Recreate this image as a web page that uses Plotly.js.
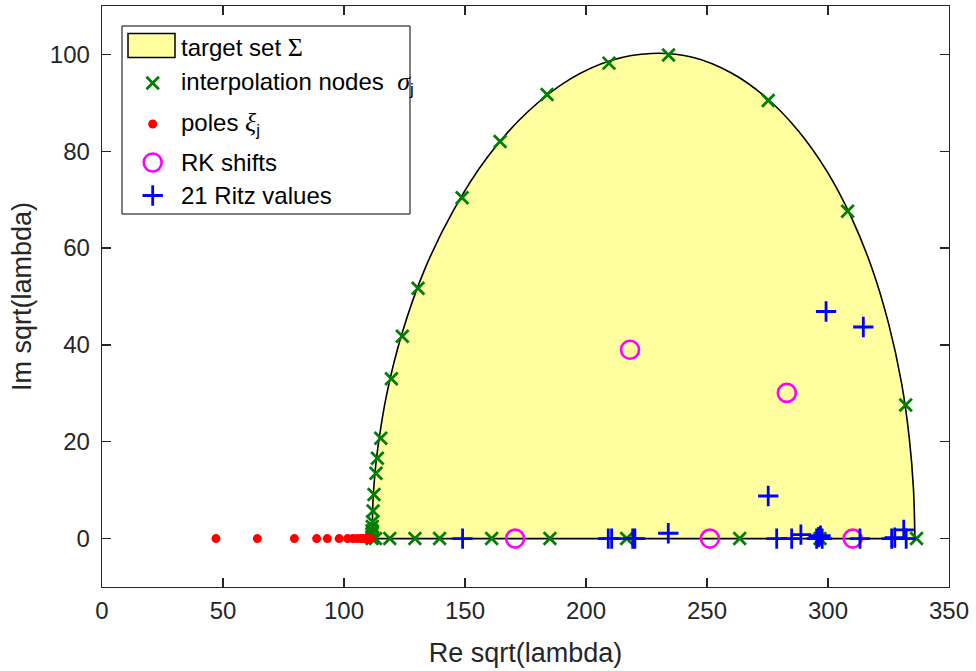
<!DOCTYPE html>
<html>
<head>
<meta charset="utf-8">
<script src="https://cdn.plot.ly/plotly-3.0.1.min.js"></script>
<style>
  html, body { margin: 0; padding: 0; background: #ffffff; }
  #chart { width: 976px; height: 671px; }
</style>
</head>
<body>
<div id="chart"></div>
<script>
// Boundary of the target set Sigma in the sqrt(lambda) plane (upper arc, left to right)
const boundaryRe = [111.6, 112.0, 112.8, 114.1, 117.6, 123.8, 133.0, 145.0, 159.3, 175.6, 193.4, 210.6, 226.9, 244.0, 259.9, 274.4, 287.6, 299.4, 309.6, 318.2, 325.1, 330.4, 333.6, 335.3, 335.9];
const boundaryIm = [0, 7.8, 13.6, 19.2, 29.7, 42.1, 55.2, 67.6, 78.8, 88.0, 94.9, 98.8, 100.2, 99.4, 96.2, 91.1, 84.3, 76.0, 66.4, 55.8, 44.3, 32.1, 20.7, 10.4, 0];

// Interpolation nodes sigma_j
const nodesRe = [111.5, 111.5, 111.6, 111.7, 111.8, 112.0, 112.4, 113.2, 113.8, 115.2, 119.6, 124.1, 130.6, 148.8, 164.5, 183.9, 209.5, 234.1, 275.3, 308.1, 332.1, 336.6,
                 111.6, 113.0, 118.9, 129.3, 139.5, 161.0, 185.1, 216.8, 263.5, 296.7];
const nodesIm = [0.3, 0.9, 1.6, 2.5, 3.5, 5.7, 9.1, 13.5, 16.6, 20.7, 33.0, 41.8, 51.7, 70.4, 82.0, 91.7, 98.2, 99.9, 90.5, 67.6, 27.6, 0,
                 0, 0, 0, 0, 0, 0, 0, 0, 0, 0];

// Poles xi_j (all real)
const polesRe = [47.1, 64.2, 79.5, 88.7, 93.1, 98.0, 101.5, 103.6, 105.4, 106.9, 108.1, 109.1, 109.9, 110.5, 111.0];
const polesIm = [0, 0, 0, 0, 0, 0, 0, 0, 0, 0, 0, 0, 0, 0, 0];

// Rational Krylov shifts
const shiftsRe = [218.2, 283.0, 170.7, 251.2, 310.2];
const shiftsIm = [39.0, 30.1, 0, 0, 0];

// 21 Ritz values
const ritzRe = [149.0, 209.2, 210.6, 219.3, 220.2, 234.0, 275.3, 278.8, 285.0, 288.8, 295.3, 296.1, 296.9, 297.6, 299.2, 313.2, 314.6, 326.3, 327.6, 331.3, 332.3];
const ritzIm = [0, 0, 0, 0, 0, 1.1, 8.8, 0, 0, 0.8, 0, 0.3, 0.6, 0, 46.9, 0, 43.7, 0, 0.2, 1.8, 0];

// Axis ticks
const xTicks = [0, 50, 100, 150, 200, 250, 300, 350];
const yTicks = [0, 20, 40, 60, 80, 100];

// Legend labels
const GREEK = 'font-family:\'Liberation Serif\', \'DejaVu Serif\', serif;font-size:26px';
const legendLabels = [
  'target set <span style="' + GREEK + '">Σ</span>',
  'interpolation nodes  <span style="' + GREEK + '"><i>σ</i></span><sub>j</sub>',
  'poles <span style="' + GREEK + '"><i>ξ</i></span><sub>j</sub>',
  'RK shifts',
  '21 Ritz values'
];

// ---- figure geometry (pixels) ----
const W = 976, H = 671;
const M = { l: 102, r: 27, t: 6, b: 84 };
const AX = '#262626';
const FONT = 'Liberation Sans, Arial, Helvetica, sans-serif';

const GREEN = '#008000', RED = '#ff0000', MAGENTA = '#ff00ff', BLUE = '#0000ff';
const FILL = '#ffffa0';

const nodeMarker = { symbol: 'x-thin-open', size: 12.5, color: GREEN, line: { color: GREEN, width: 2.8 } };
const poleMarker = { symbol: 'circle', size: 9, color: RED, line: { width: 0 } };
const shiftMarker = { symbol: 'circle-open', size: 18, color: MAGENTA, line: { color: MAGENTA, width: 2.6 } };
const ritzMarker = { symbol: 'cross-thin-open', size: 14.5, color: BLUE, line: { color: BLUE, width: 2.8 } };

const traces = [
  // filled target set (arc closed down to the real axis)
  { x: boundaryRe, y: boundaryIm, type: 'scatter', mode: 'lines',
    line: { color: '#000000', width: 1.6, shape: 'spline', smoothing: 1 },
    fill: 'tozeroy', fillcolor: FILL, hoverinfo: 'skip' },
  // base of the target set along the real axis
  { x: [boundaryRe[0], boundaryRe[boundaryRe.length - 1]], y: [boundaryIm[0], boundaryIm[boundaryIm.length - 1]],
    type: 'scatter', mode: 'lines', line: { color: '#000000', width: 1.6 }, hoverinfo: 'skip' },
  { x: nodesRe, y: nodesIm, type: 'scatter', mode: 'markers', marker: nodeMarker },
  { x: polesRe, y: polesIm, type: 'scatter', mode: 'markers', marker: poleMarker },
  { x: shiftsRe, y: shiftsIm, type: 'scatter', mode: 'markers', marker: shiftMarker },
  { x: ritzRe, y: ritzIm, type: 'scatter', mode: 'markers', marker: ritzMarker }
];

// ---- legend drawn in a pixel-space overlay (x2/y2) ----
const LEG = { x0: 122, x1: 410, y0: 26, y1: 214, symX: 152.7, textX: 179 };
const legRows = [47, 83, 124, 162.5, 195.5];
const legMarkers = [null, nodeMarker, poleMarker, shiftMarker, ritzMarker];
legMarkers.forEach((mk, i) => {
  if (!mk) return;
  traces.push({ x: [LEG.symX], y: [legRows[i]], xaxis: 'x2', yaxis: 'y2',
    type: 'scatter', mode: 'markers', marker: mk, hoverinfo: 'skip', cliponaxis: false });
});
traces.forEach(t => { t.showlegend = false; });

const shapes = [
  { type: 'rect', xref: 'x2', yref: 'y2', x0: LEG.x0, x1: LEG.x1, y0: LEG.y0, y1: LEG.y1,
    line: { color: '#000000', width: 1 }, fillcolor: '#ffffff', layer: 'below' },
  { type: 'rect', xref: 'x2', yref: 'y2', x0: 128, x1: 175, y0: 33.5, y1: 57.5,
    line: { color: '#000000', width: 1.5 }, fillcolor: FILL, layer: 'below' }
];

const annotations = legendLabels.map((txt, i) => ({
  xref: 'x2', yref: 'y2', x: LEG.textX, y: legRows[i], xanchor: 'left', yanchor: 'middle',
  text: txt, showarrow: false, font: { family: FONT, size: 24, color: '#000000' }
}));

const axisCommon = {
  ticks: 'inside', ticklen: 9, tickwidth: 1.3, tickcolor: AX,
  showline: true, linecolor: AX, linewidth: 1.3, mirror: 'ticks',
  showgrid: false, zeroline: false, automargin: false,
  tickfont: { family: FONT, size: 24, color: AX }
};

const layout = {
  width: W, height: H, margin: M,
  paper_bgcolor: '#ffffff', plot_bgcolor: '#ffffff',
  showlegend: false,
  font: { family: FONT, color: AX },
  xaxis: Object.assign({}, axisCommon, {
    range: [0, 350], tickvals: xTicks, ticklabelstandoff: 2,
    title: { text: 'Re sqrt(lambda)', font: { family: FONT, size: 27, color: AX }, standoff: 20 }
  }),
  yaxis: Object.assign({}, axisCommon, {
    range: [-10, 110], tickvals: yTicks, ticklabelstandoff: 6,
    title: { text: 'Im sqrt(lambda)', font: { family: FONT, size: 27, color: AX }, standoff: 10 }
  }),
  xaxis2: { overlaying: 'x', anchor: 'y2', range: [M.l, W - M.r], visible: false, fixedrange: true },
  yaxis2: { overlaying: 'y', anchor: 'x2', range: [H - M.b, M.t], visible: false, fixedrange: true },
  shapes: shapes,
  annotations: annotations
};

Plotly.newPlot('chart', traces, layout, { displayModeBar: false, staticPlot: true });
</script>
</body>
</html>
